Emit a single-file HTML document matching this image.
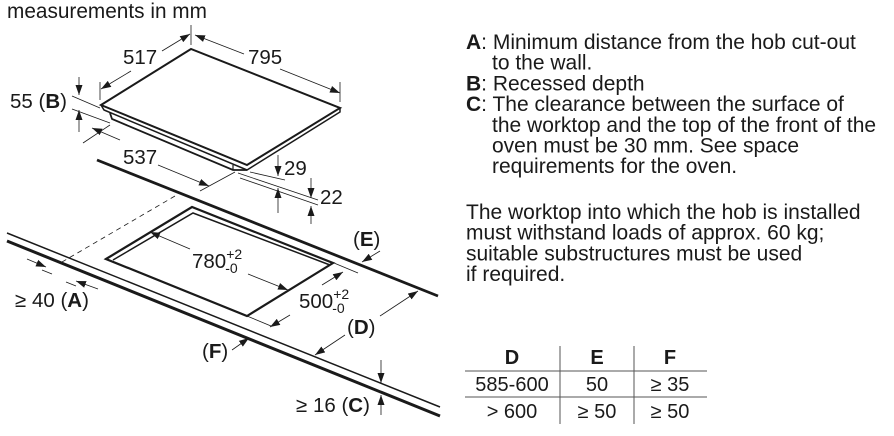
<!DOCTYPE html>
<html><head><meta charset="utf-8"><style>
html,body{margin:0;padding:0;background:#fff;}
svg{display:block;}
text{font-family:"Liberation Sans",Arial,sans-serif;fill:#1a1a1a;}
</style></head><body>
<svg width="894" height="436" viewBox="0 0 894 436" xmlns="http://www.w3.org/2000/svg">
<defs>
<marker id="ar" viewBox="0 0 10 10" refX="10" refY="5" markerWidth="10" markerHeight="10" orient="auto-start-reverse" markerUnits="userSpaceOnUse"><path d="M0,1.5 L10,5 L0,8.5 z" fill="#1a1a1a"/></marker>
</defs>
<text x="7" y="18" font-size="20.8">measurements in mm</text>

<g stroke="#1a1a1a" fill="none">
<path d="M101,105 L191,49 L340,108 L247,165 Z" stroke-width="2" fill="#fff"/>
<path d="M101,105 L104,110 L247,170 L340,112 L340,108" stroke-width="1.5"/>
<path d="M110,113 L112,119 L233,170 L247,170" stroke-width="1.8"/>
<line x1="233" y1="165" x2="233" y2="170" stroke-width="1.2"/>
<line x1="191" y1="25" x2="191" y2="45" stroke-width="0.8"/>
<line x1="100" y1="82" x2="100" y2="100" stroke-width="0.8"/>
<line x1="340" y1="82" x2="340" y2="102" stroke-width="0.8"/>
<line x1="131" y1="71" x2="101" y2="89" stroke-width="0.8" marker-end="url(#ar)"/>
<line x1="162" y1="51" x2="190" y2="34" stroke-width="0.8" marker-end="url(#ar)"/>
<line x1="244" y1="54" x2="195" y2="35" stroke-width="0.8" marker-end="url(#ar)"/>
<line x1="280" y1="69" x2="340" y2="93" stroke-width="0.8" marker-end="url(#ar)"/>
<line x1="72" y1="96" x2="100" y2="108" stroke-width="0.8"/>
<line x1="72" y1="109" x2="110" y2="123" stroke-width="0.8"/>
<line x1="79" y1="77" x2="79" y2="95" stroke-width="0.8" marker-end="url(#ar)"/>
<line x1="79" y1="132" x2="79" y2="110" stroke-width="0.8" marker-end="url(#ar)"/>
<line x1="83" y1="143" x2="110" y2="125" stroke-width="0.8"/>
<line x1="200" y1="191" x2="235" y2="172" stroke-width="0.8"/>
<line x1="120" y1="140" x2="92" y2="128" stroke-width="0.8" marker-end="url(#ar)"/>
<line x1="158" y1="165" x2="209" y2="186" stroke-width="0.8" marker-end="url(#ar)"/>
<line x1="250" y1="172" x2="285" y2="180" stroke-width="0.8"/>
<line x1="238" y1="173" x2="318" y2="200" stroke-width="0.8"/>
<line x1="240" y1="178" x2="318" y2="205" stroke-width="0.8"/>
<line x1="278" y1="155" x2="278" y2="176" stroke-width="0.8" marker-end="url(#ar)"/>
<line x1="278" y1="213" x2="278" y2="188" stroke-width="0.8" marker-end="url(#ar)"/>
<line x1="311" y1="178" x2="311" y2="198" stroke-width="0.8" marker-end="url(#ar)"/>
<line x1="311" y1="224" x2="311" y2="206" stroke-width="0.8" marker-end="url(#ar)"/>
<line x1="97" y1="160" x2="438" y2="296" stroke-width="2.8"/>
<line x1="175" y1="196" x2="62" y2="262" stroke-width="0.8" stroke-dasharray="5,4"/>
<path d="M106,259 L192,207 L333,263 L247,316 Z" stroke-width="2.2"/>
<path d="M113,260 L193,213 L330,265" stroke-width="1.5"/>
<line x1="7" y1="233" x2="440" y2="407" stroke-width="1.5"/>
<line x1="7" y1="241" x2="440" y2="416" stroke-width="3"/>
<line x1="190" y1="249" x2="150" y2="232" stroke-width="0.8" marker-end="url(#ar)"/>
<line x1="248" y1="274" x2="288" y2="290" stroke-width="0.8" marker-end="url(#ar)"/>
<line x1="334" y1="263" x2="358" y2="273" stroke-width="0.8"/>
<line x1="247" y1="316" x2="271" y2="326" stroke-width="0.8"/>
<line x1="322" y1="285" x2="343" y2="272" stroke-width="0.8" marker-end="url(#ar)"/>
<line x1="290" y1="315" x2="270" y2="327" stroke-width="0.8" marker-end="url(#ar)"/>
<line x1="380" y1="316" x2="418" y2="291" stroke-width="0.8" marker-end="url(#ar)"/>
<line x1="345" y1="335" x2="315" y2="355" stroke-width="0.8" marker-end="url(#ar)"/>
<line x1="380" y1="251" x2="362" y2="262" stroke-width="0.8" marker-end="url(#ar)"/>
<line x1="232" y1="350" x2="249" y2="338" stroke-width="0.8" marker-end="url(#ar)"/>
<line x1="381" y1="360" x2="381" y2="383" stroke-width="0.8" marker-end="url(#ar)"/>
<line x1="381" y1="415" x2="381" y2="395" stroke-width="0.8" marker-end="url(#ar)"/>
<line x1="27" y1="259" x2="46" y2="267" stroke-width="0.8" marker-end="url(#ar)"/>
<line x1="42" y1="270" x2="52" y2="274" stroke-width="0.8"/>
<line x1="98" y1="289" x2="76" y2="281" stroke-width="0.8" marker-end="url(#ar)"/>
<line x1="66" y1="282" x2="76" y2="286" stroke-width="0.8"/>
</g>

<g font-size="20.5">
<text x="123" y="64">517</text>
<text x="248" y="64">795</text>
<text x="10" y="108">55 (<tspan font-weight="bold">B</tspan>)</text>
<text x="123" y="164">537</text>
<text x="284" y="175">29</text>
<text x="320" y="204">22</text>
<text x="192" y="268">780<tspan font-size="14" dy="-9">+2</tspan><tspan font-size="14" dx="-17" dy="14">-0</tspan></text>
<text x="299" y="308">500<tspan font-size="14" dy="-9">+2</tspan><tspan font-size="14" dx="-17" dy="14">-0</tspan></text>
<text x="353" y="246">(<tspan font-weight="bold">E</tspan>)</text>
<text x="347" y="334">(<tspan font-weight="bold">D</tspan>)</text>
<text x="202" y="358">(<tspan font-weight="bold">F</tspan>)</text>
<text x="15" y="307">≥ 40 (<tspan font-weight="bold">A</tspan>)</text>
<text x="296" y="412">≥ 16 (<tspan font-weight="bold">C</tspan>)</text>
</g>

<g font-size="21">
<text x="466" y="49"><tspan font-weight="bold">A</tspan>: Minimum distance from the hob cut-out</text>
<text x="492" y="69.7">to the wall.</text>
<text x="466" y="90.4"><tspan font-weight="bold">B</tspan>: Recessed depth</text>
<text x="466" y="111.1"><tspan font-weight="bold">C</tspan>: The clearance between the surface of</text>
<text x="492" y="131.8">the worktop and the top of the front of the</text>
<text x="492" y="152.5">oven must be 30 mm. See space</text>
<text x="492" y="173.2">requirements for the oven.</text>
<text x="466" y="219">The worktop into which the hob is installed</text>
<text x="466" y="239.7">must withstand loads of approx. 60 kg;</text>
<text x="466" y="260.4">suitable substructures must be used</text>
<text x="466" y="281.1">if required.</text>
</g>

<g stroke="#555" stroke-width="1">
<line x1="465" y1="371" x2="707" y2="371"/>
<line x1="465" y1="397" x2="707" y2="397"/>
<line x1="560" y1="346" x2="560" y2="424"/>
<line x1="634" y1="346" x2="634" y2="424"/>
</g>
<g font-size="20" text-anchor="middle">
<text x="512" y="364" font-weight="bold">D</text>
<text x="597" y="364" font-weight="bold">E</text>
<text x="670" y="364" font-weight="bold">F</text>
<text x="512" y="391">585-600</text>
<text x="597" y="391">50</text>
<text x="670" y="391">≥ 35</text>
<text x="512" y="418">&gt; 600</text>
<text x="597" y="418">≥ 50</text>
<text x="670" y="418">≥ 50</text>
</g>
</svg>
</body></html>
